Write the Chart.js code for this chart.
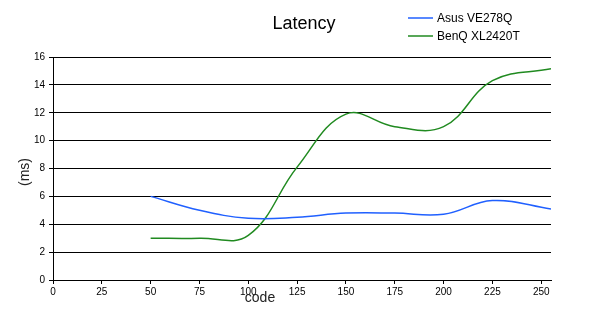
<!DOCTYPE html>
<html>
<head>
<meta charset="utf-8">
<script src="https://cdn.jsdelivr.net/npm/chart.js@4/dist/chart.umd.min.js"></script>
<style>
  html, body { margin: 0; padding: 0; background: #fff; }
  #wrap { width: 600px; height: 319px; position: relative; }
</style>
</head>
<body>
<div id="wrap"><canvas id="c" width="600" height="319"></canvas></div>
<script>
const chartTitle = "Latency";
const xTitle = "code";
const yTitle = "(ms)";
const seriesNames = ["Asus VE278Q", "BenQ XL2420T"];
const codes = [50, 75, 100, 125, 150, 175, 200, 225, 255];
const asus = [6.0, 5.0, 4.43, 4.5, 4.8, 4.8, 4.72, 5.7, 5.1];
const benq = [3.0, 3.0, 3.2, 8.1, 11.9, 11.0, 11.0, 14.3, 15.15];
const xTicks = [0, 25, 50, 75, 100, 125, 150, 175, 200, 225, 250];
const yTicks = [0, 2, 4, 6, 8, 10, 12, 14, 16];
const colors = ["#2060ff", "#208a20"];

const FONT = "'Liberation Sans', Arial, sans-serif";

const textPlugin = {
  id: 'textPlugin',
  afterDraw(chart) {
    const ctx = chart.ctx;
    ctx.save();
    ctx.fillStyle = '#000';
    ctx.font = "18px " + FONT;
    ctx.textAlign = 'center';
    ctx.textBaseline = 'alphabetic';
    ctx.fillText(chartTitle, 304, 29);
    // legend
    ctx.font = "12px " + FONT;
    ctx.textAlign = 'left';
    const ly = [18, 36];
    seriesNames.forEach((n, i) => {
      ctx.strokeStyle = colors[i];
      ctx.lineWidth = 1.5;
      ctx.beginPath();
      ctx.moveTo(408, ly[i]);
      ctx.lineTo(433, ly[i]);
      ctx.stroke();
      ctx.fillStyle = '#000';
      ctx.textBaseline = 'middle';
      ctx.fillText(n, 437, ly[i] + 1);
    });
    // axis titles
    ctx.fillStyle = '#222';
    ctx.font = "14px " + FONT;
    ctx.textAlign = 'center';
    ctx.textBaseline = 'middle';
    ctx.fillText(xTitle, 260, 298);
    ctx.translate(25, 172);
    ctx.rotate(-Math.PI / 2);
    ctx.fillText(yTitle, 0, 0);
    ctx.restore();
  }
};

new Chart(document.getElementById('c'), {
  type: 'line',
  data: {
    datasets: [
      { label: seriesNames[0], data: codes.map((x, i) => ({ x, y: asus[i] })), borderColor: colors[0], borderWidth: 1.5, pointRadius: 0, tension: 0.4, fill: false },
      { label: seriesNames[1], data: codes.map((x, i) => ({ x, y: benq[i] })), borderColor: colors[1], borderWidth: 1.5, pointRadius: 0, tension: 0.4, fill: false }
    ]
  },
  options: {
    responsive: false,
    animation: false,
    events: [],
    layout: { padding: { top: 57, right: 49, left: 0, bottom: 0 } },
    plugins: { legend: { display: false }, title: { display: false }, tooltip: { enabled: false } },
    scales: {
      x: {
        type: 'linear', min: 0, max: 255,
        afterFit(s) { s.height = 39; },
        afterBuildTicks(s) { s.ticks = xTicks.map(v => ({ value: v })); },
        ticks: { font: { size: 10, family: FONT }, color: '#000', padding: 2, maxRotation: 0, autoSkip: false },
        grid: { drawOnChartArea: false, drawTicks: true, tickLength: 4, color: '#000' },
        border: { display: true, color: '#000', width: 1 }
      },
      y: {
        min: 0, max: 16,
        afterFit(s) { s.width = 53; },
        afterBuildTicks(s) { s.ticks = yTicks.map(v => ({ value: v })); },
        ticks: { font: { size: 10, family: FONT }, color: '#000', padding: 4 },
        grid: { color: '#000', lineWidth: 1, tickLength: 4 },
        border: { display: true, color: '#000', width: 1 }
      }
    }
  },
  plugins: [textPlugin]
});
</script>
</body>
</html>
